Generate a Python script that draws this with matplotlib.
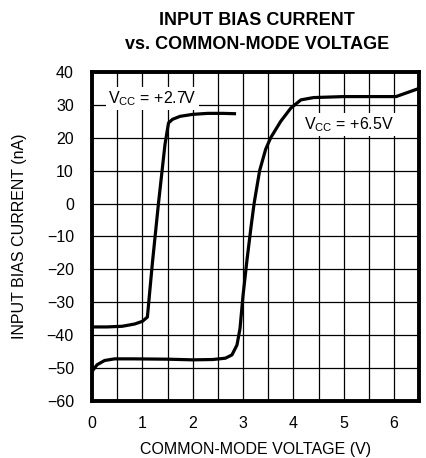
import matplotlib.pyplot as plt
from matplotlib.ticker import MultipleLocator

plt.rcParams['font.family'] = ['Liberation Sans', 'DejaVu Sans']

# curve: VCC = +2.7V
v27_x = [0.0, 0.3, 0.6, 0.85, 1.0, 1.1, 1.2, 1.32, 1.45, 1.52, 1.6, 1.75, 2.0, 2.3, 2.6, 2.83]
v27_y = [-37.5, -37.5, -37.3, -36.6, -35.8, -34.5, -18.0, 0.0, 18.0, 24.5, 25.6, 26.5, 27.1, 27.4, 27.4, 27.3]

# curve: VCC = +6.5V
v65_x = [0.0, 0.1, 0.25, 0.45, 0.8, 1.5, 2.0, 2.4, 2.65, 2.78, 2.88, 2.94, 3.0, 3.08, 3.16, 3.22,
         3.33, 3.45, 3.55, 3.75, 3.95, 4.15, 4.4, 5.0, 5.5, 6.04, 6.5]
v65_y = [-51.0, -49.0, -47.7, -47.2, -47.2, -47.3, -47.5, -47.4, -47.0, -46.0, -43.0, -38.0, -28.0,
         -17.0, -7.0, 0.0, 10.0, 16.5, 20.0, 25.0, 29.0, 31.5, 32.2, 32.5, 32.5, 32.5, 35.0]

fig = plt.figure(figsize=(4.26, 4.58), dpi=100)
ax = fig.add_axes([0.216, 0.1245, 0.768, 0.7185])

ax.plot(v27_x, v27_y, color='black', lw=2.3)
ax.plot(v65_x, v65_y, color='black', lw=2.3)

ax.set_xlim(0, 6.5)
ax.set_ylim(-60, 40)
ax.xaxis.set_major_locator(MultipleLocator(1))
ax.xaxis.set_minor_locator(MultipleLocator(0.5))
ax.yaxis.set_major_locator(MultipleLocator(10))
ax.grid(True, which='both', axis='x', color='black', lw=0.9)
ax.grid(True, which='major', axis='y', color='black', lw=0.9)
ax.tick_params(which='both', length=0, labelsize=11.5)
ax.tick_params(axis='x', pad=11)
ax.tick_params(axis='y', pad=13)
for s in ax.spines.values():
    s.set_linewidth(2.8)

ax.text(1.2, 32, r'V$_{\mathregular{CC}}$ = +2.7V', fontsize=11.5, ha='center', va='center',
        bbox=dict(facecolor='white', edgecolor='none', pad=1.5))
ax.text(5.1, 24, r'V$_{\mathregular{CC}}$ = +6.5V', fontsize=11.5, ha='center', va='center',
        bbox=dict(facecolor='white', edgecolor='none', pad=1.5))

ax.set_xlabel('COMMON-MODE VOLTAGE (V)', fontsize=11.5, labelpad=8)
ax.set_ylabel('INPUT BIAS CURRENT (nA)', fontsize=11.5, labelpad=14)
fig.text(0.603, 0.956, 'INPUT BIAS CURRENT', ha='center', va='center',
         fontsize=13, fontweight='bold')
fig.text(0.603, 0.902, 'vs. COMMON-MODE VOLTAGE', ha='center', va='center',
         fontsize=13, fontweight='bold')

fig.savefig('out.png', dpi=100)
